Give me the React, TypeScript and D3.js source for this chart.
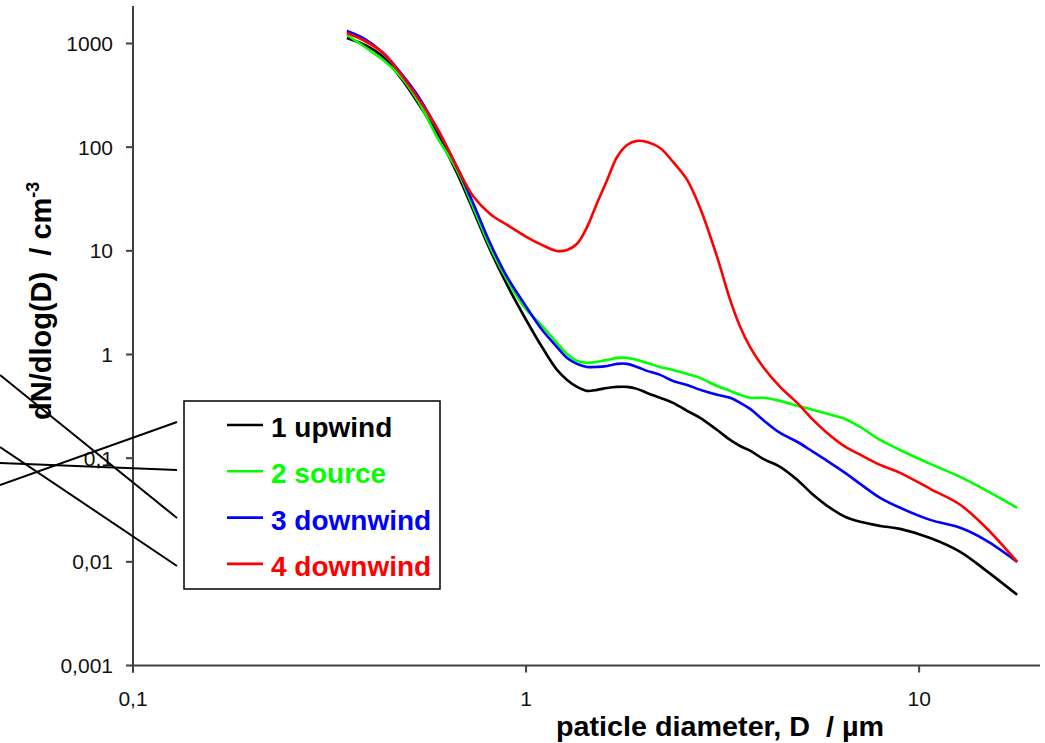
import React from "react";
import * as d3 from "d3";

// particle diameter, µm
const diameters = [0.350, 0.389, 0.433, 0.478, 0.531, 0.594, 0.667, 0.733, 0.810, 0.895, 0.994, 1.098, 1.199, 1.272, 1.348, 1.430, 1.516, 1.608, 1.704, 1.807, 1.916, 2.032, 2.193, 2.366, 2.569, 2.772, 3.062, 3.305, 3.504, 3.715, 4.010, 4.429, 4.894, 5.374, 5.834, 6.482, 7.079, 7.959, 8.947, 10.67, 12.72, 14.72, 17.76];

const upwind1 = [1130, 967, 741, 475, 267, 134, 56.4, 24.8, 10.2, 4.69, 2.25, 1.18, 0.710, 0.569, 0.487, 0.446, 0.456, 0.476, 0.487, 0.487, 0.466, 0.426, 0.382, 0.342, 0.286, 0.245, 0.187, 0.150, 0.131, 0.118, 0.0985, 0.0824, 0.0618, 0.0443, 0.0347, 0.0272, 0.0243, 0.0222, 0.0208, 0.0170, 0.0125, 0.00837, 0.00481];
const source2 = [1208, 925, 693, 486, 279, 125, 60.3, 26.5, 10.9, 5.24, 2.81, 1.89, 1.29, 1.01, 0.868, 0.830, 0.849, 0.887, 0.927, 0.927, 0.887, 0.830, 0.759, 0.710, 0.650, 0.595, 0.497, 0.446, 0.408, 0.382, 0.382, 0.357, 0.320, 0.292, 0.268, 0.239, 0.200, 0.150, 0.120, 0.0881, 0.0660, 0.0495, 0.0332];
const downwind3 = [1320, 1105, 810, 531, 312, 150, 64.4, 29.0, 11.9, 5.60, 3.01, 1.73, 1.18, 0.927, 0.812, 0.759, 0.759, 0.776, 0.812, 0.812, 0.759, 0.695, 0.636, 0.556, 0.509, 0.456, 0.408, 0.382, 0.342, 0.299, 0.234, 0.175, 0.144, 0.115, 0.0942, 0.0722, 0.0565, 0.0414, 0.0332, 0.0254, 0.0213, 0.0163, 0.0100];
const downwind4 = [1263, 1057, 810, 519, 298, 153, 64.4, 33.8, 22.7, 17.8, 13.9, 11.4, 9.98, 10.2, 11.7, 17.0, 29.0, 48.3, 80.4, 105, 115, 112, 98.2, 72.0, 48.3, 25.9, 8.73, 3.36, 1.85, 1.18, 0.759, 0.487, 0.342, 0.234, 0.175, 0.129, 0.108, 0.0862, 0.0722, 0.0506, 0.0355, 0.0218, 0.0100];

const seriesNames = ["1 upwind", "2 source", "3 downwind", "4 downwind"];
const seriesColors = ["#000000", "#00ff00", "#0000ff", "#ff0000"];
const seriesValues = [upwind1, source2, downwind3, downwind4];

const yTicks = [1000, 100, 10, 1, 0.1, 0.01, 0.001];
const yTickLabels = ["1000", "100", "10", "1", "0,1", "0,01", "0,001"];
const xTicks = [0.1, 1, 10];
const xTickLabels = ["0,1", "1", "10"];

// stray black line segments at the left edge (pixel layout)
const strayLines = [
  [0, 375, 177, 518],
  [0, 447, 177, 566],
  [0, 485, 177, 422],
  [0, 463, 177, 470],
];

export default function App() {
  const W = 1045, H = 743;
  const x = d3.scaleLog().domain([0.1, 20.3]).range([133, 1040]);
  const y = d3.scaleLog().domain([0.001, 2300]).range([665.5, 6]);
  const axisColor = "#404040";
  const font = "Arial, 'Liberation Sans', sans-serif";

  const line = d3
    .line<[number, number]>()
    .x((d) => x(d[0]))
    .y((d) => y(d[1]))
    .curve(d3.curveCatmullRom.alpha(0.5));

  const legendX = 184, legendY = 401, legendW = 256, legendH = 188;

  return (
    <svg width={W} height={H} style={{ position: "absolute", left: 0, top: 0, background: "#fff" }} fontFamily={font}>
      <rect x={0} y={0} width={W} height={H} fill="#fff" />
      {/* axes */}
      <line x1={x(0.1)} y1={y(2300)} x2={x(0.1)} y2={y(0.001) + 7} stroke={axisColor} strokeWidth={2} />
      <line x1={x(0.1)} y1={y(0.001)} x2={x(20.3)} y2={y(0.001)} stroke={axisColor} strokeWidth={2} />
      {yTicks.map((t, i) => (
        <g key={"yt" + i}>
          <line x1={x(0.1) - 7} x2={x(0.1)} y1={y(t)} y2={y(t)} stroke={axisColor} strokeWidth={2} />
          <text x={113} y={y(t)} dy="0.36em" textAnchor="end" fontSize={21} fill="#111">
            {yTickLabels[i]}
          </text>
        </g>
      ))}
      {xTicks.map((t, i) => (
        <g key={"xt" + i}>
          <line x1={x(t)} x2={x(t)} y1={y(0.001)} y2={y(0.001) + 7} stroke={axisColor} strokeWidth={2} />
          <text x={x(t)} y={706} textAnchor="middle" fontSize={21} fill="#111">
            {xTickLabels[i]}
          </text>
        </g>
      ))}
      {/* axis titles */}
      <text x={720} y={736} textAnchor="middle" fontSize={28} fontWeight="bold" textLength={328} lengthAdjust="spacingAndGlyphs" style={{ whiteSpace: "pre" }}>
        {"paticle diameter, D  / µm"}
      </text>
      <text
        transform="translate(51,420) rotate(-90)"
        x={0}
        y={0}
        fontSize={29}
        fontWeight="bold"
        style={{ whiteSpace: "pre" }}
      >
        {"dN/dlog(D)  / cm"}
        <tspan fontSize={18} dy={-12}>-3</tspan>
      </text>
      {/* series */}
      {seriesValues.map((vals, si) => {
        const pts = diameters.map((d, i) => [d, vals[i]] as [number, number]);
        return (
          <path key={"s" + si} d={line(pts) || ""} fill="none" stroke={seriesColors[si]} strokeWidth={2.6} strokeLinejoin="round" />
        );
      })}
      {/* stray lines */}
      {strayLines.map((l, i) => (
        <line key={"sl" + i} x1={l[0]} y1={l[1]} x2={l[2]} y2={l[3]} stroke="#000" strokeWidth={2} />
      ))}
      {/* legend */}
      <rect x={legendX} y={legendY} width={legendW} height={legendH} fill="#fff" stroke="#000" strokeWidth={1.5} />
      {seriesNames.map((n, i) => {
        const ly = 425 + i * 46.3;
        return (
          <g key={"lg" + i}>
            <line x1={227} x2={263} y1={ly} y2={ly} stroke={seriesColors[i]} strokeWidth={2.6} />
            <text x={271} y={ly + 12} fontSize={28} fontWeight="bold" fill={seriesColors[i]}>
              {n}
            </text>
          </g>
        );
      })}
    </svg>
  );
}
